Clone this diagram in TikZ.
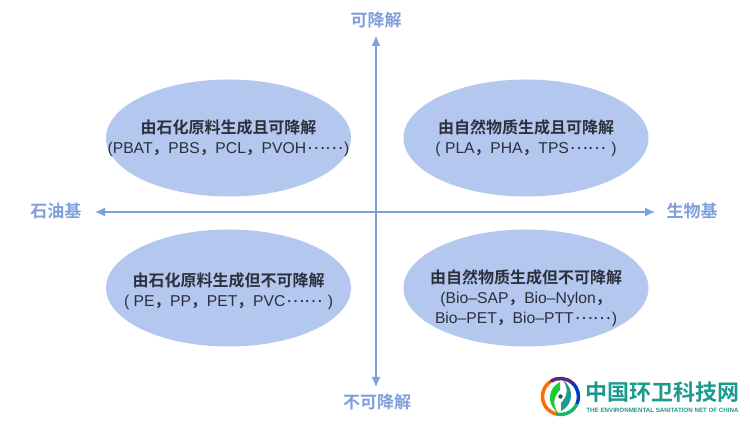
\documentclass[tikz,border=0pt]{standalone}
\usepackage{fontspec}
\setmainfont{Liberation Sans}
\newfontfamily\cjk{Noto Sans CJK SC}[BoldFont={* Bold}]
\usetikzlibrary{shapes.geometric,arrows.meta}
\definecolor{axisblue}{HTML}{7F9FDB}
\definecolor{ovalblue}{HTML}{B4C7EF}
\definecolor{inkgray}{HTML}{2B303C}
\definecolor{logoteal}{HTML}{1B9A8E}
\tikzset{
	oval/.style={ellipse,fill=ovalblue,inner sep=0pt,minimum width=245pt,minimum height=117pt},
	ovaltext/.style={align=center,text=inkgray,font=\fontsize{15.7}{20}\selectfont},
	axislabel/.style={text=axisblue,font=\fontsize{17}{19}\cjk\bfseries},
	axisline/.style={draw=axisblue,line width=1.3pt,{Latex[length=10pt,width=9pt]}-{Latex[length=10pt,width=9pt]}},
	ring/.style={line width=3.5pt,line cap=round}
}
\newcommand{\zh}[1]{{\fontsize{16}{20}\cjk\bfseries #1}}
\newcommand{\cm}{{\cjk\bfseries ，}}
\newcommand{\dts}{\raisebox{4pt}{\kern1pt{\cjk\fontsize{17}{20}\selectfont ……}\kern1pt}}
\begin{document}
\begin{tikzpicture}[x=1pt,y=-1pt,line join=round]
	 \useasboundingbox (0,0) rectangle (750,427);
	 \fill[white] (0,0) rectangle (750,427);
	 \node[oval] (petrodeg) at (228.5,138) {};
	 \node[oval] (biodeg) at (526,138) {};
	 \node[oval] (petrono) at (228.5,288) {};
	 \node[oval] (biono) at (526,288) {};
	 \node[ovaltext] at (228.5,138) {\zh{由石化原料生成且可降解}\\(PBAT\cm PBS\cm PCL\cm PVOH\dts)};
	 \node[ovaltext] at (526,138) {\zh{由自然物质生成且可降解}\\( PLA\cm PHA\cm TPS\dts\ )};
	 \node[ovaltext] at (228.5,291) {\zh{由石化原料生成但不可降解}\\( PE\cm PP\cm PET\cm PVC\dts\ )};
	 \node[ovaltext] at (526,298) {\zh{由自然物质生成但不可降解}\\(Bio--SAP\cm Bio--Nylon\cm\hspace*{8pt}\\Bio--PET\cm Bio--PTT\dts)};
	 \node[axislabel] (degr) at (376,20) {可降解};
	 \node[axislabel] (nondegr) at (377,402) {不可降解};
	 \node[axislabel] (petro) at (56,211) {石油基};
	 \node[axislabel] (bio) at (692,211) {生物基};
	 \coordinate (vtop) at (376,36);
	 \coordinate (vbot) at (376,387);
	 \coordinate (hleft) at (95,212);
	 \coordinate (hright) at (655,212);
	 \draw[axisline] (vtop) -- (vbot);
	 \draw[axisline] (hleft) -- (hright);
	 % logo
	 \coordinate (logoc) at (560.5,396.5);
	 \draw[ring,orange!85!red] (logoc)++(100:18) arc[start angle=100,end angle=235,radius=18];
	 \draw[ring,logoteal!70!green] (logoc)++(20:18) arc[start angle=20,end angle=100,radius=18];
	 \draw[ring,blue!55!teal] (logoc)++(-50:18) arc[start angle=-50,end angle=20,radius=18];
	 \draw[ring,violet!70!teal] (logoc)++(-120:18) arc[start angle=-120,end angle=-50,radius=18];
	 \fill[green!55!teal!90!yellow] (560,382) .. controls (548,388) and (546,404) .. (558,413) .. controls (552,404) and (554,396) .. (560,390) -- cycle;
	 \fill[logoteal] (561,411) .. controls (573,405) and (575,389) .. (563,380) .. controls (569,389) and (567,397) .. (561,403) -- cycle;
	 \fill[logoteal!60!black] (560.5,396.5) circle (2.2);
	 \node[text=logoteal,font=\fontsize{22}{24}\cjk\bfseries,inner sep=0pt] (logotext) at (662.5,392) {中国环卫科技网};
	 \node[text=logoteal,font=\fontsize{6.2}{7}\selectfont\bfseries,inner sep=0pt] (logosub) at (662.5,410.5) {THE ENVIRONMENTAL SANITATION NET OF CHINA};
\end{tikzpicture}
\end{document}
